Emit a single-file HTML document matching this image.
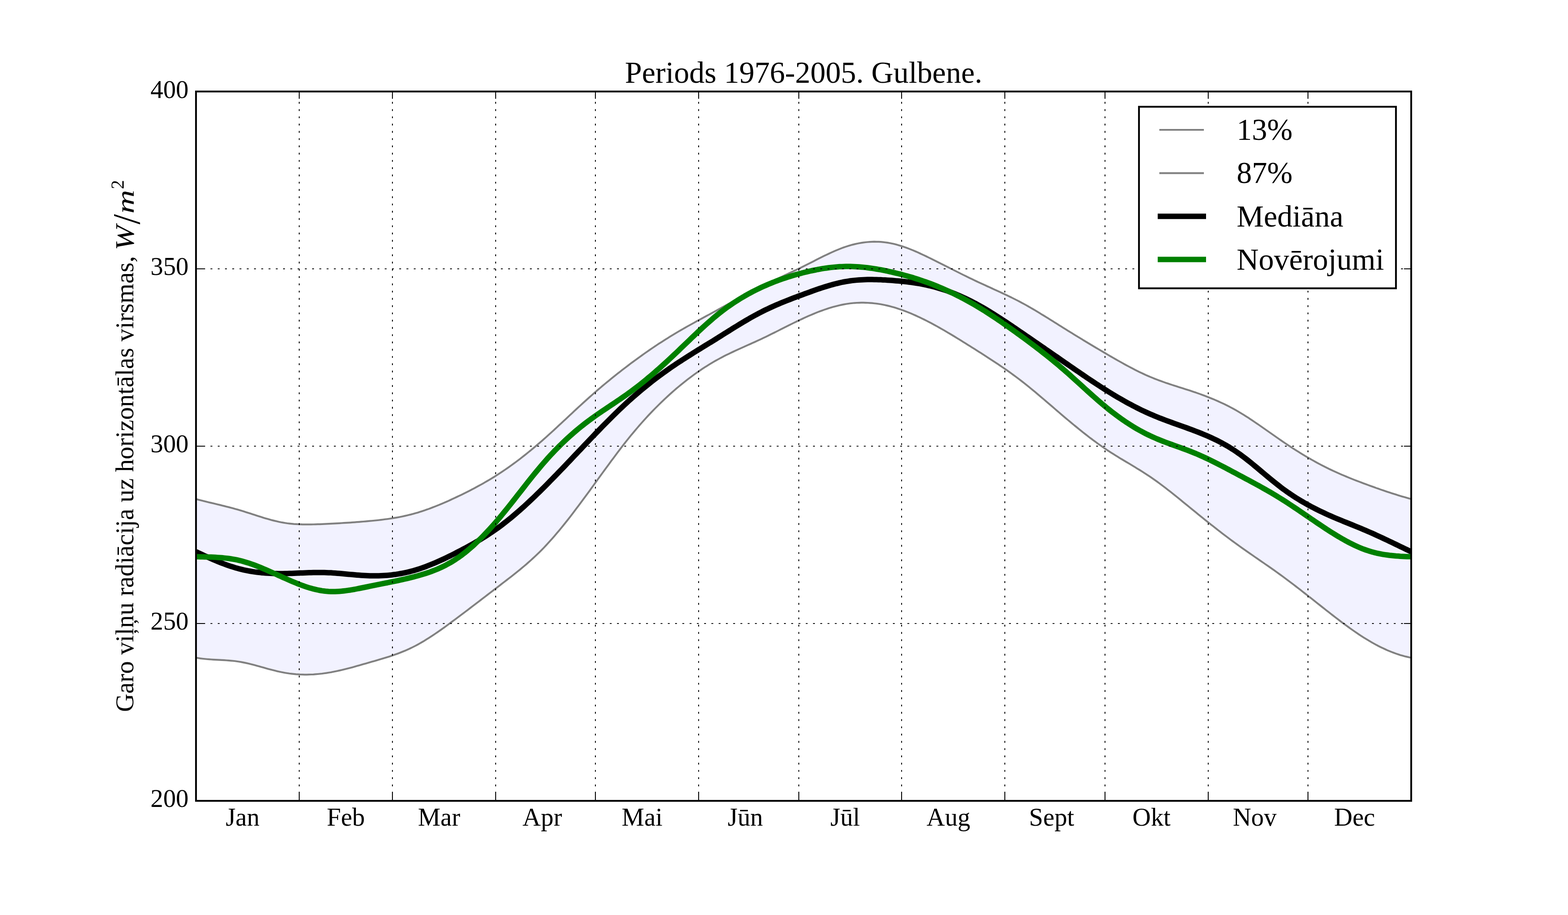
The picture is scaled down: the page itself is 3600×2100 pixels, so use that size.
<!DOCTYPE html>
<html lang="lv"><head><meta charset="utf-8"><title>Periods 1976-2005. Gulbene.</title>
<style>
html,body{margin:0;padding:0;background:#fff;}
body{width:3600px;height:2100px;overflow:hidden;}
svg{display:block;}
text{font-family:"Liberation Serif","DejaVu Serif",serif;fill:#000;}
.t14{font-size:58.33px;}
.t17{font-size:70px;}
.grid{stroke:#000;stroke-width:2.083;stroke-dasharray:4.167 12.5;fill:none;}
.tick{stroke:#000;stroke-width:2.083;fill:none;}
.it{font-family:"Liberation Serif","DejaVu Serif",serif;font-style:italic;}
</style></head><body>
<svg xmlns="http://www.w3.org/2000/svg" width="3600" height="2100" viewBox="0 0 3600 2100">
<rect x="0" y="0" width="3600" height="2100" fill="#fff"/>
<clipPath id="ax"><rect x="450.0" y="210.0" width="2790.0" height="1628.0"/></clipPath>
<g clip-path="url(#ax)">
<path d="M450.0 1145.3 L455.0 1146.7 L460.0 1148.0 L465.0 1149.2 L470.0 1150.5 L475.0 1151.7 L479.9 1152.9 L484.9 1154.1 L489.9 1155.3 L494.9 1156.5 L499.9 1157.7 L504.9 1158.9 L509.9 1160.2 L514.9 1161.4 L519.9 1162.7 L524.9 1163.9 L529.9 1165.2 L534.9 1166.6 L539.8 1167.9 L544.8 1169.3 L549.8 1170.8 L554.8 1172.3 L559.8 1173.8 L564.8 1175.4 L569.8 1177.0 L574.8 1178.6 L579.8 1180.2 L584.8 1181.8 L589.8 1183.4 L594.7 1185.0 L599.7 1186.6 L604.7 1188.2 L609.7 1189.7 L614.7 1191.1 L619.7 1192.5 L624.7 1193.9 L629.7 1195.1 L634.7 1196.3 L639.7 1197.5 L644.6 1198.5 L649.6 1199.4 L654.6 1200.2 L659.6 1201.0 L664.6 1201.6 L669.6 1202.1 L674.6 1202.6 L679.6 1202.9 L684.6 1203.2 L689.6 1203.4 L694.6 1203.6 L699.5 1203.7 L704.5 1203.7 L709.5 1203.7 L714.5 1203.7 L719.5 1203.5 L724.5 1203.4 L729.5 1203.2 L734.5 1203.1 L739.5 1202.8 L744.5 1202.6 L749.5 1202.4 L754.5 1202.1 L759.5 1201.9 L764.4 1201.6 L769.4 1201.4 L774.4 1201.1 L779.4 1200.8 L784.4 1200.5 L789.4 1200.2 L794.4 1199.9 L799.4 1199.6 L804.4 1199.3 L809.4 1198.9 L814.4 1198.6 L819.3 1198.2 L824.3 1197.8 L829.3 1197.4 L834.3 1197.0 L839.3 1196.6 L844.3 1196.1 L849.3 1195.7 L854.3 1195.2 L859.3 1194.7 L864.3 1194.2 L869.2 1193.7 L874.2 1193.1 L879.2 1192.5 L884.2 1191.8 L889.2 1191.2 L894.2 1190.5 L899.2 1189.7 L904.2 1188.9 L909.2 1188.1 L914.2 1187.2 L919.2 1186.2 L924.1 1185.2 L929.1 1184.1 L934.1 1183.0 L939.1 1181.8 L944.1 1180.6 L949.1 1179.2 L954.1 1177.8 L959.1 1176.4 L964.1 1174.8 L969.1 1173.2 L974.1 1171.6 L979.0 1169.8 L984.0 1168.1 L989.0 1166.2 L994.0 1164.3 L999.0 1162.4 L1004.0 1160.4 L1009.0 1158.3 L1014.0 1156.3 L1019.0 1154.1 L1024.0 1152.0 L1029.0 1149.8 L1034.0 1147.5 L1038.9 1145.2 L1043.9 1142.9 L1048.9 1140.5 L1053.9 1138.2 L1058.9 1135.8 L1063.9 1133.3 L1068.9 1130.9 L1073.9 1128.4 L1078.9 1125.8 L1083.9 1123.2 L1088.9 1120.6 L1093.8 1117.9 L1098.8 1115.2 L1103.8 1112.5 L1108.8 1109.7 L1113.8 1106.8 L1118.8 1103.9 L1123.8 1101.0 L1128.8 1097.9 L1133.8 1094.9 L1138.8 1091.7 L1143.8 1088.5 L1148.8 1085.3 L1153.7 1082.0 L1158.7 1078.6 L1163.7 1075.2 L1168.7 1071.7 L1173.7 1068.1 L1178.7 1064.5 L1183.7 1060.8 L1188.7 1057.1 L1193.7 1053.3 L1198.7 1049.4 L1203.7 1045.5 L1208.6 1041.6 L1213.6 1037.5 L1218.6 1033.5 L1223.6 1029.3 L1228.6 1025.2 L1233.6 1020.9 L1238.6 1016.6 L1243.6 1012.3 L1248.6 1007.9 L1253.6 1003.5 L1258.5 999.0 L1263.5 994.5 L1268.5 990.0 L1273.5 985.4 L1278.5 980.8 L1283.5 976.1 L1288.5 971.5 L1293.5 966.8 L1298.5 962.2 L1303.5 957.5 L1308.5 952.8 L1313.5 948.2 L1318.4 943.5 L1323.4 938.9 L1328.4 934.3 L1333.4 929.7 L1338.4 925.1 L1343.4 920.6 L1348.4 916.1 L1353.4 911.6 L1358.4 907.2 L1363.4 902.8 L1368.3 898.5 L1373.3 894.2 L1378.3 890.0 L1383.3 885.7 L1388.3 881.5 L1393.3 877.4 L1398.3 873.3 L1403.3 869.2 L1408.3 865.2 L1413.3 861.2 L1418.3 857.2 L1423.3 853.3 L1428.2 849.4 L1433.2 845.6 L1438.2 841.8 L1443.2 838.0 L1448.2 834.2 L1453.2 830.5 L1458.2 826.8 L1463.2 823.2 L1468.2 819.6 L1473.2 816.0 L1478.2 812.4 L1483.2 808.9 L1488.1 805.5 L1493.1 802.0 L1498.1 798.6 L1503.1 795.3 L1508.1 791.9 L1513.1 788.6 L1518.1 785.4 L1523.1 782.2 L1528.1 779.0 L1533.1 775.9 L1538.0 772.8 L1543.0 769.7 L1548.0 766.7 L1553.0 763.7 L1558.0 760.8 L1563.0 757.9 L1568.0 755.0 L1573.0 752.1 L1578.0 749.3 L1583.0 746.5 L1588.0 743.7 L1593.0 741.0 L1597.9 738.2 L1602.9 735.5 L1607.9 732.8 L1612.9 730.1 L1617.9 727.4 L1622.9 724.6 L1627.9 722.0 L1632.9 719.2 L1637.9 716.5 L1642.9 713.8 L1647.8 711.1 L1652.8 708.4 L1657.8 705.6 L1662.8 702.9 L1667.8 700.1 L1672.8 697.4 L1677.8 694.6 L1682.8 691.9 L1687.8 689.2 L1692.8 686.4 L1697.8 683.7 L1702.8 681.0 L1707.8 678.3 L1712.7 675.6 L1717.7 673.0 L1722.7 670.4 L1727.7 667.7 L1732.7 665.1 L1737.7 662.6 L1742.7 660.0 L1747.7 657.5 L1752.7 655.1 L1757.7 652.6 L1762.7 650.2 L1767.6 647.8 L1772.6 645.5 L1777.6 643.1 L1782.6 640.8 L1787.6 638.4 L1792.6 636.1 L1797.6 633.8 L1802.6 631.4 L1807.6 629.1 L1812.6 626.7 L1817.5 624.4 L1822.5 622.0 L1827.5 619.6 L1832.5 617.2 L1837.5 614.8 L1842.5 612.4 L1847.5 609.9 L1852.5 607.4 L1857.5 604.9 L1862.5 602.3 L1867.5 599.8 L1872.5 597.2 L1877.4 594.7 L1882.4 592.2 L1887.4 589.7 L1892.4 587.2 L1897.4 584.8 L1902.4 582.5 L1907.4 580.1 L1912.4 577.9 L1917.4 575.7 L1922.4 573.6 L1927.3 571.6 L1932.3 569.6 L1937.3 567.8 L1942.3 566.1 L1947.3 564.5 L1952.3 563.0 L1957.3 561.6 L1962.3 560.4 L1967.3 559.2 L1972.3 558.2 L1977.3 557.4 L1982.2 556.6 L1987.2 556.0 L1992.2 555.5 L1997.2 555.1 L2002.2 554.9 L2007.2 554.7 L2012.2 554.8 L2017.2 554.9 L2022.2 555.2 L2027.2 555.6 L2032.2 556.2 L2037.2 556.9 L2042.2 557.7 L2047.1 558.7 L2052.1 559.8 L2057.1 561.1 L2062.1 562.4 L2067.1 563.9 L2072.1 565.5 L2077.1 567.2 L2082.1 569.0 L2087.1 570.9 L2092.1 572.9 L2097.1 574.9 L2102.0 577.0 L2107.0 579.2 L2112.0 581.5 L2117.0 583.8 L2122.0 586.1 L2127.0 588.5 L2132.0 591.0 L2137.0 593.4 L2142.0 595.9 L2147.0 598.4 L2151.9 600.9 L2156.9 603.4 L2161.9 605.9 L2166.9 608.4 L2171.9 610.9 L2176.9 613.4 L2181.9 616.0 L2186.9 618.5 L2191.9 621.0 L2196.9 623.5 L2201.9 626.0 L2206.8 628.5 L2211.8 631.0 L2216.8 633.4 L2221.8 635.9 L2226.8 638.3 L2231.8 640.7 L2236.8 643.1 L2241.8 645.5 L2246.8 647.8 L2251.8 650.1 L2256.8 652.4 L2261.8 654.7 L2266.7 657.0 L2271.7 659.2 L2276.7 661.5 L2281.7 663.8 L2286.7 666.1 L2291.7 668.4 L2296.7 670.6 L2301.7 673.0 L2306.7 675.3 L2311.7 677.7 L2316.7 680.1 L2321.7 682.5 L2326.6 685.0 L2331.6 687.5 L2336.6 690.0 L2341.6 692.7 L2346.6 695.3 L2351.6 698.0 L2356.6 700.8 L2361.6 703.6 L2366.6 706.5 L2371.6 709.4 L2376.6 712.3 L2381.5 715.3 L2386.5 718.3 L2391.5 721.4 L2396.5 724.4 L2401.5 727.5 L2406.5 730.6 L2411.5 733.7 L2416.5 736.8 L2421.5 739.9 L2426.5 743.1 L2431.4 746.2 L2436.4 749.3 L2441.4 752.4 L2446.4 755.5 L2451.4 758.7 L2456.4 761.8 L2461.4 764.8 L2466.4 767.9 L2471.4 771.0 L2476.4 774.0 L2481.4 777.0 L2486.3 780.1 L2491.3 783.1 L2496.3 786.1 L2501.3 789.1 L2506.3 792.1 L2511.3 795.1 L2516.3 798.1 L2521.3 801.0 L2526.3 804.0 L2531.3 806.9 L2536.3 809.9 L2541.2 812.8 L2546.2 815.7 L2551.2 818.6 L2556.2 821.5 L2561.2 824.4 L2566.2 827.2 L2571.2 830.0 L2576.2 832.8 L2581.2 835.6 L2586.2 838.3 L2591.2 841.0 L2596.2 843.6 L2601.1 846.2 L2606.1 848.8 L2611.1 851.3 L2616.1 853.8 L2621.1 856.2 L2626.1 858.5 L2631.1 860.8 L2636.1 863.0 L2641.1 865.1 L2646.1 867.2 L2651.1 869.2 L2656.1 871.1 L2661.0 873.0 L2666.0 874.8 L2671.0 876.6 L2676.0 878.4 L2681.0 880.0 L2686.0 881.7 L2691.0 883.4 L2696.0 885.0 L2701.0 886.6 L2706.0 888.2 L2710.9 889.7 L2715.9 891.3 L2720.9 892.9 L2725.9 894.5 L2730.9 896.1 L2735.9 897.8 L2740.9 899.5 L2745.9 901.1 L2750.9 902.9 L2755.9 904.6 L2760.9 906.5 L2765.8 908.3 L2770.8 910.2 L2775.8 912.2 L2780.8 914.2 L2785.8 916.2 L2790.8 918.4 L2795.8 920.5 L2800.8 922.8 L2805.8 925.1 L2810.8 927.4 L2815.8 929.9 L2820.8 932.4 L2825.7 935.0 L2830.7 937.7 L2835.7 940.4 L2840.7 943.2 L2845.7 946.2 L2850.7 949.2 L2855.7 952.2 L2860.7 955.4 L2865.7 958.6 L2870.7 961.9 L2875.7 965.2 L2880.6 968.6 L2885.6 972.0 L2890.6 975.4 L2895.6 978.9 L2900.6 982.4 L2905.6 985.9 L2910.6 989.4 L2915.6 992.9 L2920.6 996.4 L2925.6 999.9 L2930.6 1003.4 L2935.6 1006.9 L2940.5 1010.3 L2945.5 1013.7 L2950.5 1017.1 L2955.5 1020.4 L2960.5 1023.7 L2965.5 1027.0 L2970.5 1030.2 L2975.5 1033.4 L2980.5 1036.5 L2985.5 1039.7 L2990.4 1042.7 L2995.4 1045.7 L3000.4 1048.7 L3005.4 1051.6 L3010.4 1054.5 L3015.4 1057.3 L3020.4 1060.1 L3025.4 1062.8 L3030.4 1065.5 L3035.4 1068.1 L3040.4 1070.6 L3045.3 1073.1 L3050.3 1075.6 L3055.3 1078.0 L3060.3 1080.3 L3065.3 1082.6 L3070.3 1084.9 L3075.3 1087.1 L3080.3 1089.3 L3085.3 1091.4 L3090.3 1093.5 L3095.3 1095.6 L3100.2 1097.6 L3105.2 1099.6 L3110.2 1101.6 L3115.2 1103.5 L3120.2 1105.4 L3125.2 1107.3 L3130.2 1109.2 L3135.2 1111.0 L3140.2 1112.9 L3145.2 1114.7 L3150.2 1116.5 L3155.2 1118.3 L3160.1 1120.1 L3165.1 1121.8 L3170.1 1123.6 L3175.1 1125.3 L3180.1 1127.0 L3185.1 1128.7 L3190.1 1130.3 L3195.1 1131.9 L3200.1 1133.5 L3205.1 1135.1 L3210.1 1136.7 L3215.0 1138.2 L3220.0 1139.7 L3225.0 1141.1 L3230.0 1142.6 L3235.0 1144.0 L3240.0 1145.3 L3240.0 1509.5 L3235.0 1508.5 L3230.0 1507.4 L3225.0 1506.2 L3220.0 1504.8 L3215.0 1503.4 L3210.1 1501.8 L3205.1 1500.1 L3200.1 1498.3 L3195.1 1496.4 L3190.1 1494.4 L3185.1 1492.3 L3180.1 1490.0 L3175.1 1487.7 L3170.1 1485.3 L3165.1 1482.8 L3160.1 1480.2 L3155.2 1477.5 L3150.2 1474.7 L3145.2 1471.8 L3140.2 1468.8 L3135.2 1465.8 L3130.2 1462.7 L3125.2 1459.5 L3120.2 1456.2 L3115.2 1452.8 L3110.2 1449.4 L3105.2 1445.9 L3100.2 1442.4 L3095.3 1438.8 L3090.3 1435.2 L3085.3 1431.5 L3080.3 1427.8 L3075.3 1424.0 L3070.3 1420.2 L3065.3 1416.4 L3060.3 1412.5 L3055.3 1408.6 L3050.3 1404.7 L3045.3 1400.8 L3040.4 1396.9 L3035.4 1393.0 L3030.4 1389.0 L3025.4 1385.1 L3020.4 1381.1 L3015.4 1377.2 L3010.4 1373.2 L3005.4 1369.3 L3000.4 1365.4 L2995.4 1361.5 L2990.4 1357.6 L2985.5 1353.7 L2980.5 1349.8 L2975.5 1346.0 L2970.5 1342.1 L2965.5 1338.3 L2960.5 1334.6 L2955.5 1330.8 L2950.5 1327.1 L2945.5 1323.4 L2940.5 1319.8 L2935.6 1316.2 L2930.6 1312.6 L2925.6 1309.0 L2920.6 1305.5 L2915.6 1302.0 L2910.6 1298.5 L2905.6 1295.1 L2900.6 1291.6 L2895.6 1288.2 L2890.6 1284.7 L2885.6 1281.3 L2880.6 1277.9 L2875.7 1274.4 L2870.7 1271.0 L2865.7 1267.5 L2860.7 1264.0 L2855.7 1260.5 L2850.7 1257.0 L2845.7 1253.4 L2840.7 1249.8 L2835.7 1246.2 L2830.7 1242.5 L2825.7 1238.8 L2820.8 1235.1 L2815.8 1231.4 L2810.8 1227.6 L2805.8 1223.8 L2800.8 1219.9 L2795.8 1216.1 L2790.8 1212.2 L2785.8 1208.2 L2780.8 1204.3 L2775.8 1200.4 L2770.8 1196.4 L2765.8 1192.4 L2760.9 1188.4 L2755.9 1184.4 L2750.9 1180.3 L2745.9 1176.2 L2740.9 1172.2 L2735.9 1168.1 L2730.9 1164.0 L2725.9 1159.9 L2720.9 1155.8 L2715.9 1151.8 L2710.9 1147.7 L2706.0 1143.6 L2701.0 1139.6 L2696.0 1135.6 L2691.0 1131.6 L2686.0 1127.7 L2681.0 1123.8 L2676.0 1119.9 L2671.0 1116.1 L2666.0 1112.4 L2661.0 1108.7 L2656.1 1105.0 L2651.1 1101.5 L2646.1 1098.0 L2641.1 1094.5 L2636.1 1091.2 L2631.1 1087.9 L2626.1 1084.7 L2621.1 1081.5 L2616.1 1078.4 L2611.1 1075.4 L2606.1 1072.3 L2601.1 1069.3 L2596.2 1066.3 L2591.2 1063.3 L2586.2 1060.4 L2581.2 1057.4 L2576.2 1054.4 L2571.2 1051.4 L2566.2 1048.3 L2561.2 1045.2 L2556.2 1042.1 L2551.2 1038.9 L2546.2 1035.7 L2541.2 1032.4 L2536.3 1029.0 L2531.3 1025.6 L2526.3 1022.1 L2521.3 1018.6 L2516.3 1014.9 L2511.3 1011.3 L2506.3 1007.5 L2501.3 1003.8 L2496.3 999.9 L2491.3 996.0 L2486.3 992.1 L2481.4 988.1 L2476.4 984.1 L2471.4 980.0 L2466.4 976.0 L2461.4 971.8 L2456.4 967.7 L2451.4 963.5 L2446.4 959.3 L2441.4 955.1 L2436.4 950.8 L2431.4 946.5 L2426.5 942.3 L2421.5 938.0 L2416.5 933.7 L2411.5 929.4 L2406.5 925.1 L2401.5 920.8 L2396.5 916.5 L2391.5 912.3 L2386.5 908.1 L2381.5 903.9 L2376.6 899.7 L2371.6 895.6 L2366.6 891.5 L2361.6 887.4 L2356.6 883.4 L2351.6 879.4 L2346.6 875.5 L2341.6 871.7 L2336.6 867.9 L2331.6 864.2 L2326.6 860.5 L2321.7 856.9 L2316.7 853.3 L2311.7 849.8 L2306.7 846.3 L2301.7 842.9 L2296.7 839.5 L2291.7 836.1 L2286.7 832.8 L2281.7 829.5 L2276.7 826.2 L2271.7 823.0 L2266.7 819.7 L2261.8 816.5 L2256.8 813.3 L2251.8 810.1 L2246.8 807.0 L2241.8 803.8 L2236.8 800.6 L2231.8 797.5 L2226.8 794.3 L2221.8 791.2 L2216.8 788.0 L2211.8 784.9 L2206.8 781.8 L2201.9 778.7 L2196.9 775.7 L2191.9 772.6 L2186.9 769.6 L2181.9 766.6 L2176.9 763.7 L2171.9 760.7 L2166.9 757.8 L2161.9 755.0 L2156.9 752.1 L2151.9 749.3 L2147.0 746.6 L2142.0 743.9 L2137.0 741.2 L2132.0 738.6 L2127.0 736.0 L2122.0 733.5 L2117.0 731.1 L2112.0 728.7 L2107.0 726.3 L2102.0 724.0 L2097.1 721.8 L2092.1 719.7 L2087.1 717.6 L2082.1 715.6 L2077.1 713.7 L2072.1 711.9 L2067.1 710.1 L2062.1 708.4 L2057.1 706.8 L2052.1 705.3 L2047.1 703.9 L2042.2 702.6 L2037.2 701.4 L2032.2 700.3 L2027.2 699.3 L2022.2 698.3 L2017.2 697.5 L2012.2 696.8 L2007.2 696.2 L2002.2 695.7 L1997.2 695.3 L1992.2 695.0 L1987.2 694.8 L1982.2 694.6 L1977.3 694.7 L1972.3 694.8 L1967.3 695.0 L1962.3 695.3 L1957.3 695.8 L1952.3 696.3 L1947.3 697.0 L1942.3 697.7 L1937.3 698.6 L1932.3 699.6 L1927.3 700.7 L1922.4 701.9 L1917.4 703.2 L1912.4 704.5 L1907.4 706.0 L1902.4 707.5 L1897.4 709.2 L1892.4 710.9 L1887.4 712.7 L1882.4 714.5 L1877.4 716.4 L1872.5 718.4 L1867.5 720.5 L1862.5 722.6 L1857.5 724.7 L1852.5 726.9 L1847.5 729.2 L1842.5 731.5 L1837.5 733.8 L1832.5 736.2 L1827.5 738.6 L1822.5 741.0 L1817.5 743.5 L1812.6 745.9 L1807.6 748.4 L1802.6 750.9 L1797.6 753.4 L1792.6 755.9 L1787.6 758.5 L1782.6 761.0 L1777.6 763.5 L1772.6 765.9 L1767.6 768.4 L1762.7 770.9 L1757.7 773.3 L1752.7 775.7 L1747.7 778.1 L1742.7 780.4 L1737.7 782.7 L1732.7 785.0 L1727.7 787.2 L1722.7 789.5 L1717.7 791.7 L1712.7 793.9 L1707.8 796.2 L1702.8 798.4 L1697.8 800.6 L1692.8 802.9 L1687.8 805.2 L1682.8 807.5 L1677.8 809.9 L1672.8 812.3 L1667.8 814.7 L1662.8 817.2 L1657.8 819.8 L1652.8 822.5 L1647.8 825.2 L1642.9 827.9 L1637.9 830.8 L1632.9 833.8 L1627.9 836.8 L1622.9 839.9 L1617.9 843.1 L1612.9 846.3 L1607.9 849.7 L1602.9 853.1 L1597.9 856.6 L1593.0 860.2 L1588.0 863.9 L1583.0 867.6 L1578.0 871.4 L1573.0 875.3 L1568.0 879.3 L1563.0 883.4 L1558.0 887.5 L1553.0 891.7 L1548.0 896.0 L1543.0 900.4 L1538.0 904.9 L1533.1 909.4 L1528.1 914.0 L1523.1 918.7 L1518.1 923.5 L1513.1 928.4 L1508.1 933.4 L1503.1 938.4 L1498.1 943.5 L1493.1 948.7 L1488.1 954.0 L1483.2 959.4 L1478.2 964.9 L1473.2 970.5 L1468.2 976.2 L1463.2 982.0 L1458.2 987.8 L1453.2 993.8 L1448.2 999.8 L1443.2 1006.0 L1438.2 1012.2 L1433.2 1018.6 L1428.2 1025.0 L1423.3 1031.5 L1418.3 1038.1 L1413.3 1044.7 L1408.3 1051.4 L1403.3 1058.1 L1398.3 1064.9 L1393.3 1071.7 L1388.3 1078.5 L1383.3 1085.4 L1378.3 1092.3 L1373.3 1099.1 L1368.3 1106.0 L1363.4 1112.9 L1358.4 1119.8 L1353.4 1126.7 L1348.4 1133.5 L1343.4 1140.3 L1338.4 1147.1 L1333.4 1153.8 L1328.4 1160.5 L1323.4 1167.1 L1318.4 1173.7 L1313.5 1180.2 L1308.5 1186.7 L1303.5 1193.1 L1298.5 1199.4 L1293.5 1205.6 L1288.5 1211.7 L1283.5 1217.8 L1278.5 1223.7 L1273.5 1229.6 L1268.5 1235.3 L1263.5 1240.9 L1258.5 1246.4 L1253.6 1251.8 L1248.6 1257.1 L1243.6 1262.2 L1238.6 1267.2 L1233.6 1272.0 L1228.6 1276.8 L1223.6 1281.4 L1218.6 1286.0 L1213.6 1290.4 L1208.6 1294.8 L1203.7 1299.0 L1198.7 1303.2 L1193.7 1307.3 L1188.7 1311.4 L1183.7 1315.4 L1178.7 1319.4 L1173.7 1323.3 L1168.7 1327.2 L1163.7 1331.0 L1158.7 1334.9 L1153.7 1338.7 L1148.8 1342.5 L1143.8 1346.3 L1138.8 1350.2 L1133.8 1354.0 L1128.8 1357.8 L1123.8 1361.7 L1118.8 1365.5 L1113.8 1369.3 L1108.8 1373.1 L1103.8 1377.0 L1098.8 1380.8 L1093.8 1384.6 L1088.9 1388.4 L1083.9 1392.2 L1078.9 1396.0 L1073.9 1399.8 L1068.9 1403.6 L1063.9 1407.3 L1058.9 1411.1 L1053.9 1414.8 L1048.9 1418.6 L1043.9 1422.3 L1038.9 1426.0 L1034.0 1429.7 L1029.0 1433.4 L1024.0 1437.1 L1019.0 1440.7 L1014.0 1444.2 L1009.0 1447.8 L1004.0 1451.2 L999.0 1454.6 L994.0 1458.0 L989.0 1461.3 L984.0 1464.5 L979.0 1467.6 L974.1 1470.7 L969.1 1473.6 L964.1 1476.5 L959.1 1479.3 L954.1 1482.0 L949.1 1484.5 L944.1 1487.0 L939.1 1489.3 L934.1 1491.6 L929.1 1493.8 L924.1 1495.8 L919.2 1497.8 L914.2 1499.7 L909.2 1501.5 L904.2 1503.3 L899.2 1505.0 L894.2 1506.7 L889.2 1508.2 L884.2 1509.8 L879.2 1511.3 L874.2 1512.8 L869.2 1514.3 L864.3 1515.7 L859.3 1517.2 L854.3 1518.6 L849.3 1520.0 L844.3 1521.5 L839.3 1522.9 L834.3 1524.3 L829.3 1525.8 L824.3 1527.2 L819.3 1528.6 L814.4 1530.0 L809.4 1531.4 L804.4 1532.7 L799.4 1534.0 L794.4 1535.3 L789.4 1536.5 L784.4 1537.7 L779.4 1538.9 L774.4 1540.0 L769.4 1541.0 L764.4 1542.0 L759.5 1543.0 L754.5 1543.8 L749.5 1544.6 L744.5 1545.3 L739.5 1546.0 L734.5 1546.5 L729.5 1547.0 L724.5 1547.4 L719.5 1547.8 L714.5 1548.0 L709.5 1548.2 L704.5 1548.3 L699.5 1548.3 L694.6 1548.2 L689.6 1548.0 L684.6 1547.7 L679.6 1547.4 L674.6 1546.9 L669.6 1546.4 L664.6 1545.8 L659.6 1545.0 L654.6 1544.2 L649.6 1543.3 L644.6 1542.3 L639.7 1541.2 L634.7 1540.1 L629.7 1538.8 L624.7 1537.5 L619.7 1536.2 L614.7 1534.9 L609.7 1533.5 L604.7 1532.1 L599.7 1530.7 L594.7 1529.3 L589.8 1527.9 L584.8 1526.5 L579.8 1525.2 L574.8 1524.0 L569.8 1522.8 L564.8 1521.6 L559.8 1520.6 L554.8 1519.6 L549.8 1518.7 L544.8 1518.0 L539.8 1517.3 L534.9 1516.8 L529.9 1516.3 L524.9 1515.9 L519.9 1515.5 L514.9 1515.2 L509.9 1514.9 L504.9 1514.7 L499.9 1514.4 L494.9 1514.1 L489.9 1513.8 L484.9 1513.5 L479.9 1513.2 L475.0 1512.8 L470.0 1512.3 L465.0 1511.7 L460.0 1511.1 L455.0 1510.3 L450.0 1509.5Z" fill="#f2f2ff" stroke="none"/>
<path d="M450.0 1145.3 L455.0 1146.7 L460.0 1148.0 L465.0 1149.2 L470.0 1150.5 L475.0 1151.7 L479.9 1152.9 L484.9 1154.1 L489.9 1155.3 L494.9 1156.5 L499.9 1157.7 L504.9 1158.9 L509.9 1160.2 L514.9 1161.4 L519.9 1162.7 L524.9 1163.9 L529.9 1165.2 L534.9 1166.6 L539.8 1167.9 L544.8 1169.3 L549.8 1170.8 L554.8 1172.3 L559.8 1173.8 L564.8 1175.4 L569.8 1177.0 L574.8 1178.6 L579.8 1180.2 L584.8 1181.8 L589.8 1183.4 L594.7 1185.0 L599.7 1186.6 L604.7 1188.2 L609.7 1189.7 L614.7 1191.1 L619.7 1192.5 L624.7 1193.9 L629.7 1195.1 L634.7 1196.3 L639.7 1197.5 L644.6 1198.5 L649.6 1199.4 L654.6 1200.2 L659.6 1201.0 L664.6 1201.6 L669.6 1202.1 L674.6 1202.6 L679.6 1202.9 L684.6 1203.2 L689.6 1203.4 L694.6 1203.6 L699.5 1203.7 L704.5 1203.7 L709.5 1203.7 L714.5 1203.7 L719.5 1203.5 L724.5 1203.4 L729.5 1203.2 L734.5 1203.1 L739.5 1202.8 L744.5 1202.6 L749.5 1202.4 L754.5 1202.1 L759.5 1201.9 L764.4 1201.6 L769.4 1201.4 L774.4 1201.1 L779.4 1200.8 L784.4 1200.5 L789.4 1200.2 L794.4 1199.9 L799.4 1199.6 L804.4 1199.3 L809.4 1198.9 L814.4 1198.6 L819.3 1198.2 L824.3 1197.8 L829.3 1197.4 L834.3 1197.0 L839.3 1196.6 L844.3 1196.1 L849.3 1195.7 L854.3 1195.2 L859.3 1194.7 L864.3 1194.2 L869.2 1193.7 L874.2 1193.1 L879.2 1192.5 L884.2 1191.8 L889.2 1191.2 L894.2 1190.5 L899.2 1189.7 L904.2 1188.9 L909.2 1188.1 L914.2 1187.2 L919.2 1186.2 L924.1 1185.2 L929.1 1184.1 L934.1 1183.0 L939.1 1181.8 L944.1 1180.6 L949.1 1179.2 L954.1 1177.8 L959.1 1176.4 L964.1 1174.8 L969.1 1173.2 L974.1 1171.6 L979.0 1169.8 L984.0 1168.1 L989.0 1166.2 L994.0 1164.3 L999.0 1162.4 L1004.0 1160.4 L1009.0 1158.3 L1014.0 1156.3 L1019.0 1154.1 L1024.0 1152.0 L1029.0 1149.8 L1034.0 1147.5 L1038.9 1145.2 L1043.9 1142.9 L1048.9 1140.5 L1053.9 1138.2 L1058.9 1135.8 L1063.9 1133.3 L1068.9 1130.9 L1073.9 1128.4 L1078.9 1125.8 L1083.9 1123.2 L1088.9 1120.6 L1093.8 1117.9 L1098.8 1115.2 L1103.8 1112.5 L1108.8 1109.7 L1113.8 1106.8 L1118.8 1103.9 L1123.8 1101.0 L1128.8 1097.9 L1133.8 1094.9 L1138.8 1091.7 L1143.8 1088.5 L1148.8 1085.3 L1153.7 1082.0 L1158.7 1078.6 L1163.7 1075.2 L1168.7 1071.7 L1173.7 1068.1 L1178.7 1064.5 L1183.7 1060.8 L1188.7 1057.1 L1193.7 1053.3 L1198.7 1049.4 L1203.7 1045.5 L1208.6 1041.6 L1213.6 1037.5 L1218.6 1033.5 L1223.6 1029.3 L1228.6 1025.2 L1233.6 1020.9 L1238.6 1016.6 L1243.6 1012.3 L1248.6 1007.9 L1253.6 1003.5 L1258.5 999.0 L1263.5 994.5 L1268.5 990.0 L1273.5 985.4 L1278.5 980.8 L1283.5 976.1 L1288.5 971.5 L1293.5 966.8 L1298.5 962.2 L1303.5 957.5 L1308.5 952.8 L1313.5 948.2 L1318.4 943.5 L1323.4 938.9 L1328.4 934.3 L1333.4 929.7 L1338.4 925.1 L1343.4 920.6 L1348.4 916.1 L1353.4 911.6 L1358.4 907.2 L1363.4 902.8 L1368.3 898.5 L1373.3 894.2 L1378.3 890.0 L1383.3 885.7 L1388.3 881.5 L1393.3 877.4 L1398.3 873.3 L1403.3 869.2 L1408.3 865.2 L1413.3 861.2 L1418.3 857.2 L1423.3 853.3 L1428.2 849.4 L1433.2 845.6 L1438.2 841.8 L1443.2 838.0 L1448.2 834.2 L1453.2 830.5 L1458.2 826.8 L1463.2 823.2 L1468.2 819.6 L1473.2 816.0 L1478.2 812.4 L1483.2 808.9 L1488.1 805.5 L1493.1 802.0 L1498.1 798.6 L1503.1 795.3 L1508.1 791.9 L1513.1 788.6 L1518.1 785.4 L1523.1 782.2 L1528.1 779.0 L1533.1 775.9 L1538.0 772.8 L1543.0 769.7 L1548.0 766.7 L1553.0 763.7 L1558.0 760.8 L1563.0 757.9 L1568.0 755.0 L1573.0 752.1 L1578.0 749.3 L1583.0 746.5 L1588.0 743.7 L1593.0 741.0 L1597.9 738.2 L1602.9 735.5 L1607.9 732.8 L1612.9 730.1 L1617.9 727.4 L1622.9 724.6 L1627.9 722.0 L1632.9 719.2 L1637.9 716.5 L1642.9 713.8 L1647.8 711.1 L1652.8 708.4 L1657.8 705.6 L1662.8 702.9 L1667.8 700.1 L1672.8 697.4 L1677.8 694.6 L1682.8 691.9 L1687.8 689.2 L1692.8 686.4 L1697.8 683.7 L1702.8 681.0 L1707.8 678.3 L1712.7 675.6 L1717.7 673.0 L1722.7 670.4 L1727.7 667.7 L1732.7 665.1 L1737.7 662.6 L1742.7 660.0 L1747.7 657.5 L1752.7 655.1 L1757.7 652.6 L1762.7 650.2 L1767.6 647.8 L1772.6 645.5 L1777.6 643.1 L1782.6 640.8 L1787.6 638.4 L1792.6 636.1 L1797.6 633.8 L1802.6 631.4 L1807.6 629.1 L1812.6 626.7 L1817.5 624.4 L1822.5 622.0 L1827.5 619.6 L1832.5 617.2 L1837.5 614.8 L1842.5 612.4 L1847.5 609.9 L1852.5 607.4 L1857.5 604.9 L1862.5 602.3 L1867.5 599.8 L1872.5 597.2 L1877.4 594.7 L1882.4 592.2 L1887.4 589.7 L1892.4 587.2 L1897.4 584.8 L1902.4 582.5 L1907.4 580.1 L1912.4 577.9 L1917.4 575.7 L1922.4 573.6 L1927.3 571.6 L1932.3 569.6 L1937.3 567.8 L1942.3 566.1 L1947.3 564.5 L1952.3 563.0 L1957.3 561.6 L1962.3 560.4 L1967.3 559.2 L1972.3 558.2 L1977.3 557.4 L1982.2 556.6 L1987.2 556.0 L1992.2 555.5 L1997.2 555.1 L2002.2 554.9 L2007.2 554.7 L2012.2 554.8 L2017.2 554.9 L2022.2 555.2 L2027.2 555.6 L2032.2 556.2 L2037.2 556.9 L2042.2 557.7 L2047.1 558.7 L2052.1 559.8 L2057.1 561.1 L2062.1 562.4 L2067.1 563.9 L2072.1 565.5 L2077.1 567.2 L2082.1 569.0 L2087.1 570.9 L2092.1 572.9 L2097.1 574.9 L2102.0 577.0 L2107.0 579.2 L2112.0 581.5 L2117.0 583.8 L2122.0 586.1 L2127.0 588.5 L2132.0 591.0 L2137.0 593.4 L2142.0 595.9 L2147.0 598.4 L2151.9 600.9 L2156.9 603.4 L2161.9 605.9 L2166.9 608.4 L2171.9 610.9 L2176.9 613.4 L2181.9 616.0 L2186.9 618.5 L2191.9 621.0 L2196.9 623.5 L2201.9 626.0 L2206.8 628.5 L2211.8 631.0 L2216.8 633.4 L2221.8 635.9 L2226.8 638.3 L2231.8 640.7 L2236.8 643.1 L2241.8 645.5 L2246.8 647.8 L2251.8 650.1 L2256.8 652.4 L2261.8 654.7 L2266.7 657.0 L2271.7 659.2 L2276.7 661.5 L2281.7 663.8 L2286.7 666.1 L2291.7 668.4 L2296.7 670.6 L2301.7 673.0 L2306.7 675.3 L2311.7 677.7 L2316.7 680.1 L2321.7 682.5 L2326.6 685.0 L2331.6 687.5 L2336.6 690.0 L2341.6 692.7 L2346.6 695.3 L2351.6 698.0 L2356.6 700.8 L2361.6 703.6 L2366.6 706.5 L2371.6 709.4 L2376.6 712.3 L2381.5 715.3 L2386.5 718.3 L2391.5 721.4 L2396.5 724.4 L2401.5 727.5 L2406.5 730.6 L2411.5 733.7 L2416.5 736.8 L2421.5 739.9 L2426.5 743.1 L2431.4 746.2 L2436.4 749.3 L2441.4 752.4 L2446.4 755.5 L2451.4 758.7 L2456.4 761.8 L2461.4 764.8 L2466.4 767.9 L2471.4 771.0 L2476.4 774.0 L2481.4 777.0 L2486.3 780.1 L2491.3 783.1 L2496.3 786.1 L2501.3 789.1 L2506.3 792.1 L2511.3 795.1 L2516.3 798.1 L2521.3 801.0 L2526.3 804.0 L2531.3 806.9 L2536.3 809.9 L2541.2 812.8 L2546.2 815.7 L2551.2 818.6 L2556.2 821.5 L2561.2 824.4 L2566.2 827.2 L2571.2 830.0 L2576.2 832.8 L2581.2 835.6 L2586.2 838.3 L2591.2 841.0 L2596.2 843.6 L2601.1 846.2 L2606.1 848.8 L2611.1 851.3 L2616.1 853.8 L2621.1 856.2 L2626.1 858.5 L2631.1 860.8 L2636.1 863.0 L2641.1 865.1 L2646.1 867.2 L2651.1 869.2 L2656.1 871.1 L2661.0 873.0 L2666.0 874.8 L2671.0 876.6 L2676.0 878.4 L2681.0 880.0 L2686.0 881.7 L2691.0 883.4 L2696.0 885.0 L2701.0 886.6 L2706.0 888.2 L2710.9 889.7 L2715.9 891.3 L2720.9 892.9 L2725.9 894.5 L2730.9 896.1 L2735.9 897.8 L2740.9 899.5 L2745.9 901.1 L2750.9 902.9 L2755.9 904.6 L2760.9 906.5 L2765.8 908.3 L2770.8 910.2 L2775.8 912.2 L2780.8 914.2 L2785.8 916.2 L2790.8 918.4 L2795.8 920.5 L2800.8 922.8 L2805.8 925.1 L2810.8 927.4 L2815.8 929.9 L2820.8 932.4 L2825.7 935.0 L2830.7 937.7 L2835.7 940.4 L2840.7 943.2 L2845.7 946.2 L2850.7 949.2 L2855.7 952.2 L2860.7 955.4 L2865.7 958.6 L2870.7 961.9 L2875.7 965.2 L2880.6 968.6 L2885.6 972.0 L2890.6 975.4 L2895.6 978.9 L2900.6 982.4 L2905.6 985.9 L2910.6 989.4 L2915.6 992.9 L2920.6 996.4 L2925.6 999.9 L2930.6 1003.4 L2935.6 1006.9 L2940.5 1010.3 L2945.5 1013.7 L2950.5 1017.1 L2955.5 1020.4 L2960.5 1023.7 L2965.5 1027.0 L2970.5 1030.2 L2975.5 1033.4 L2980.5 1036.5 L2985.5 1039.7 L2990.4 1042.7 L2995.4 1045.7 L3000.4 1048.7 L3005.4 1051.6 L3010.4 1054.5 L3015.4 1057.3 L3020.4 1060.1 L3025.4 1062.8 L3030.4 1065.5 L3035.4 1068.1 L3040.4 1070.6 L3045.3 1073.1 L3050.3 1075.6 L3055.3 1078.0 L3060.3 1080.3 L3065.3 1082.6 L3070.3 1084.9 L3075.3 1087.1 L3080.3 1089.3 L3085.3 1091.4 L3090.3 1093.5 L3095.3 1095.6 L3100.2 1097.6 L3105.2 1099.6 L3110.2 1101.6 L3115.2 1103.5 L3120.2 1105.4 L3125.2 1107.3 L3130.2 1109.2 L3135.2 1111.0 L3140.2 1112.9 L3145.2 1114.7 L3150.2 1116.5 L3155.2 1118.3 L3160.1 1120.1 L3165.1 1121.8 L3170.1 1123.6 L3175.1 1125.3 L3180.1 1127.0 L3185.1 1128.7 L3190.1 1130.3 L3195.1 1131.9 L3200.1 1133.5 L3205.1 1135.1 L3210.1 1136.7 L3215.0 1138.2 L3220.0 1139.7 L3225.0 1141.1 L3230.0 1142.6 L3235.0 1144.0 L3240.0 1145.3" fill="none" stroke="#808080" stroke-width="4.167" stroke-linejoin="round"/>
<path d="M450.0 1509.5 L455.0 1510.3 L460.0 1511.1 L465.0 1511.7 L470.0 1512.3 L475.0 1512.8 L479.9 1513.2 L484.9 1513.5 L489.9 1513.8 L494.9 1514.1 L499.9 1514.4 L504.9 1514.7 L509.9 1514.9 L514.9 1515.2 L519.9 1515.5 L524.9 1515.9 L529.9 1516.3 L534.9 1516.8 L539.8 1517.3 L544.8 1518.0 L549.8 1518.7 L554.8 1519.6 L559.8 1520.6 L564.8 1521.6 L569.8 1522.8 L574.8 1524.0 L579.8 1525.2 L584.8 1526.5 L589.8 1527.9 L594.7 1529.3 L599.7 1530.7 L604.7 1532.1 L609.7 1533.5 L614.7 1534.9 L619.7 1536.2 L624.7 1537.5 L629.7 1538.8 L634.7 1540.1 L639.7 1541.2 L644.6 1542.3 L649.6 1543.3 L654.6 1544.2 L659.6 1545.0 L664.6 1545.8 L669.6 1546.4 L674.6 1546.9 L679.6 1547.4 L684.6 1547.7 L689.6 1548.0 L694.6 1548.2 L699.5 1548.3 L704.5 1548.3 L709.5 1548.2 L714.5 1548.0 L719.5 1547.8 L724.5 1547.4 L729.5 1547.0 L734.5 1546.5 L739.5 1546.0 L744.5 1545.3 L749.5 1544.6 L754.5 1543.8 L759.5 1543.0 L764.4 1542.0 L769.4 1541.0 L774.4 1540.0 L779.4 1538.9 L784.4 1537.7 L789.4 1536.5 L794.4 1535.3 L799.4 1534.0 L804.4 1532.7 L809.4 1531.4 L814.4 1530.0 L819.3 1528.6 L824.3 1527.2 L829.3 1525.8 L834.3 1524.3 L839.3 1522.9 L844.3 1521.5 L849.3 1520.0 L854.3 1518.6 L859.3 1517.2 L864.3 1515.7 L869.2 1514.3 L874.2 1512.8 L879.2 1511.3 L884.2 1509.8 L889.2 1508.2 L894.2 1506.7 L899.2 1505.0 L904.2 1503.3 L909.2 1501.5 L914.2 1499.7 L919.2 1497.8 L924.1 1495.8 L929.1 1493.8 L934.1 1491.6 L939.1 1489.3 L944.1 1487.0 L949.1 1484.5 L954.1 1482.0 L959.1 1479.3 L964.1 1476.5 L969.1 1473.6 L974.1 1470.7 L979.0 1467.6 L984.0 1464.5 L989.0 1461.3 L994.0 1458.0 L999.0 1454.6 L1004.0 1451.2 L1009.0 1447.8 L1014.0 1444.2 L1019.0 1440.7 L1024.0 1437.1 L1029.0 1433.4 L1034.0 1429.7 L1038.9 1426.0 L1043.9 1422.3 L1048.9 1418.6 L1053.9 1414.8 L1058.9 1411.1 L1063.9 1407.3 L1068.9 1403.6 L1073.9 1399.8 L1078.9 1396.0 L1083.9 1392.2 L1088.9 1388.4 L1093.8 1384.6 L1098.8 1380.8 L1103.8 1377.0 L1108.8 1373.1 L1113.8 1369.3 L1118.8 1365.5 L1123.8 1361.7 L1128.8 1357.8 L1133.8 1354.0 L1138.8 1350.2 L1143.8 1346.3 L1148.8 1342.5 L1153.7 1338.7 L1158.7 1334.9 L1163.7 1331.0 L1168.7 1327.2 L1173.7 1323.3 L1178.7 1319.4 L1183.7 1315.4 L1188.7 1311.4 L1193.7 1307.3 L1198.7 1303.2 L1203.7 1299.0 L1208.6 1294.8 L1213.6 1290.4 L1218.6 1286.0 L1223.6 1281.4 L1228.6 1276.8 L1233.6 1272.0 L1238.6 1267.2 L1243.6 1262.2 L1248.6 1257.1 L1253.6 1251.8 L1258.5 1246.4 L1263.5 1240.9 L1268.5 1235.3 L1273.5 1229.6 L1278.5 1223.7 L1283.5 1217.8 L1288.5 1211.7 L1293.5 1205.6 L1298.5 1199.4 L1303.5 1193.1 L1308.5 1186.7 L1313.5 1180.2 L1318.4 1173.7 L1323.4 1167.1 L1328.4 1160.5 L1333.4 1153.8 L1338.4 1147.1 L1343.4 1140.3 L1348.4 1133.5 L1353.4 1126.7 L1358.4 1119.8 L1363.4 1112.9 L1368.3 1106.0 L1373.3 1099.1 L1378.3 1092.3 L1383.3 1085.4 L1388.3 1078.5 L1393.3 1071.7 L1398.3 1064.9 L1403.3 1058.1 L1408.3 1051.4 L1413.3 1044.7 L1418.3 1038.1 L1423.3 1031.5 L1428.2 1025.0 L1433.2 1018.6 L1438.2 1012.2 L1443.2 1006.0 L1448.2 999.8 L1453.2 993.8 L1458.2 987.8 L1463.2 982.0 L1468.2 976.2 L1473.2 970.5 L1478.2 964.9 L1483.2 959.4 L1488.1 954.0 L1493.1 948.7 L1498.1 943.5 L1503.1 938.4 L1508.1 933.4 L1513.1 928.4 L1518.1 923.5 L1523.1 918.7 L1528.1 914.0 L1533.1 909.4 L1538.0 904.9 L1543.0 900.4 L1548.0 896.0 L1553.0 891.7 L1558.0 887.5 L1563.0 883.4 L1568.0 879.3 L1573.0 875.3 L1578.0 871.4 L1583.0 867.6 L1588.0 863.9 L1593.0 860.2 L1597.9 856.6 L1602.9 853.1 L1607.9 849.7 L1612.9 846.3 L1617.9 843.1 L1622.9 839.9 L1627.9 836.8 L1632.9 833.8 L1637.9 830.8 L1642.9 827.9 L1647.8 825.2 L1652.8 822.5 L1657.8 819.8 L1662.8 817.2 L1667.8 814.7 L1672.8 812.3 L1677.8 809.9 L1682.8 807.5 L1687.8 805.2 L1692.8 802.9 L1697.8 800.6 L1702.8 798.4 L1707.8 796.2 L1712.7 793.9 L1717.7 791.7 L1722.7 789.5 L1727.7 787.2 L1732.7 785.0 L1737.7 782.7 L1742.7 780.4 L1747.7 778.1 L1752.7 775.7 L1757.7 773.3 L1762.7 770.9 L1767.6 768.4 L1772.6 765.9 L1777.6 763.5 L1782.6 761.0 L1787.6 758.5 L1792.6 755.9 L1797.6 753.4 L1802.6 750.9 L1807.6 748.4 L1812.6 745.9 L1817.5 743.5 L1822.5 741.0 L1827.5 738.6 L1832.5 736.2 L1837.5 733.8 L1842.5 731.5 L1847.5 729.2 L1852.5 726.9 L1857.5 724.7 L1862.5 722.6 L1867.5 720.5 L1872.5 718.4 L1877.4 716.4 L1882.4 714.5 L1887.4 712.7 L1892.4 710.9 L1897.4 709.2 L1902.4 707.5 L1907.4 706.0 L1912.4 704.5 L1917.4 703.2 L1922.4 701.9 L1927.3 700.7 L1932.3 699.6 L1937.3 698.6 L1942.3 697.7 L1947.3 697.0 L1952.3 696.3 L1957.3 695.8 L1962.3 695.3 L1967.3 695.0 L1972.3 694.8 L1977.3 694.7 L1982.2 694.6 L1987.2 694.8 L1992.2 695.0 L1997.2 695.3 L2002.2 695.7 L2007.2 696.2 L2012.2 696.8 L2017.2 697.5 L2022.2 698.3 L2027.2 699.3 L2032.2 700.3 L2037.2 701.4 L2042.2 702.6 L2047.1 703.9 L2052.1 705.3 L2057.1 706.8 L2062.1 708.4 L2067.1 710.1 L2072.1 711.9 L2077.1 713.7 L2082.1 715.6 L2087.1 717.6 L2092.1 719.7 L2097.1 721.8 L2102.0 724.0 L2107.0 726.3 L2112.0 728.7 L2117.0 731.1 L2122.0 733.5 L2127.0 736.0 L2132.0 738.6 L2137.0 741.2 L2142.0 743.9 L2147.0 746.6 L2151.9 749.3 L2156.9 752.1 L2161.9 755.0 L2166.9 757.8 L2171.9 760.7 L2176.9 763.7 L2181.9 766.6 L2186.9 769.6 L2191.9 772.6 L2196.9 775.7 L2201.9 778.7 L2206.8 781.8 L2211.8 784.9 L2216.8 788.0 L2221.8 791.2 L2226.8 794.3 L2231.8 797.5 L2236.8 800.6 L2241.8 803.8 L2246.8 807.0 L2251.8 810.1 L2256.8 813.3 L2261.8 816.5 L2266.7 819.7 L2271.7 823.0 L2276.7 826.2 L2281.7 829.5 L2286.7 832.8 L2291.7 836.1 L2296.7 839.5 L2301.7 842.9 L2306.7 846.3 L2311.7 849.8 L2316.7 853.3 L2321.7 856.9 L2326.6 860.5 L2331.6 864.2 L2336.6 867.9 L2341.6 871.7 L2346.6 875.5 L2351.6 879.4 L2356.6 883.4 L2361.6 887.4 L2366.6 891.5 L2371.6 895.6 L2376.6 899.7 L2381.5 903.9 L2386.5 908.1 L2391.5 912.3 L2396.5 916.5 L2401.5 920.8 L2406.5 925.1 L2411.5 929.4 L2416.5 933.7 L2421.5 938.0 L2426.5 942.3 L2431.4 946.5 L2436.4 950.8 L2441.4 955.1 L2446.4 959.3 L2451.4 963.5 L2456.4 967.7 L2461.4 971.8 L2466.4 976.0 L2471.4 980.0 L2476.4 984.1 L2481.4 988.1 L2486.3 992.1 L2491.3 996.0 L2496.3 999.9 L2501.3 1003.8 L2506.3 1007.5 L2511.3 1011.3 L2516.3 1014.9 L2521.3 1018.6 L2526.3 1022.1 L2531.3 1025.6 L2536.3 1029.0 L2541.2 1032.4 L2546.2 1035.7 L2551.2 1038.9 L2556.2 1042.1 L2561.2 1045.2 L2566.2 1048.3 L2571.2 1051.4 L2576.2 1054.4 L2581.2 1057.4 L2586.2 1060.4 L2591.2 1063.3 L2596.2 1066.3 L2601.1 1069.3 L2606.1 1072.3 L2611.1 1075.4 L2616.1 1078.4 L2621.1 1081.5 L2626.1 1084.7 L2631.1 1087.9 L2636.1 1091.2 L2641.1 1094.5 L2646.1 1098.0 L2651.1 1101.5 L2656.1 1105.0 L2661.0 1108.7 L2666.0 1112.4 L2671.0 1116.1 L2676.0 1119.9 L2681.0 1123.8 L2686.0 1127.7 L2691.0 1131.6 L2696.0 1135.6 L2701.0 1139.6 L2706.0 1143.6 L2710.9 1147.7 L2715.9 1151.8 L2720.9 1155.8 L2725.9 1159.9 L2730.9 1164.0 L2735.9 1168.1 L2740.9 1172.2 L2745.9 1176.2 L2750.9 1180.3 L2755.9 1184.4 L2760.9 1188.4 L2765.8 1192.4 L2770.8 1196.4 L2775.8 1200.4 L2780.8 1204.3 L2785.8 1208.2 L2790.8 1212.2 L2795.8 1216.1 L2800.8 1219.9 L2805.8 1223.8 L2810.8 1227.6 L2815.8 1231.4 L2820.8 1235.1 L2825.7 1238.8 L2830.7 1242.5 L2835.7 1246.2 L2840.7 1249.8 L2845.7 1253.4 L2850.7 1257.0 L2855.7 1260.5 L2860.7 1264.0 L2865.7 1267.5 L2870.7 1271.0 L2875.7 1274.4 L2880.6 1277.9 L2885.6 1281.3 L2890.6 1284.7 L2895.6 1288.2 L2900.6 1291.6 L2905.6 1295.1 L2910.6 1298.5 L2915.6 1302.0 L2920.6 1305.5 L2925.6 1309.0 L2930.6 1312.6 L2935.6 1316.2 L2940.5 1319.8 L2945.5 1323.4 L2950.5 1327.1 L2955.5 1330.8 L2960.5 1334.6 L2965.5 1338.3 L2970.5 1342.1 L2975.5 1346.0 L2980.5 1349.8 L2985.5 1353.7 L2990.4 1357.6 L2995.4 1361.5 L3000.4 1365.4 L3005.4 1369.3 L3010.4 1373.2 L3015.4 1377.2 L3020.4 1381.1 L3025.4 1385.1 L3030.4 1389.0 L3035.4 1393.0 L3040.4 1396.9 L3045.3 1400.8 L3050.3 1404.7 L3055.3 1408.6 L3060.3 1412.5 L3065.3 1416.4 L3070.3 1420.2 L3075.3 1424.0 L3080.3 1427.8 L3085.3 1431.5 L3090.3 1435.2 L3095.3 1438.8 L3100.2 1442.4 L3105.2 1445.9 L3110.2 1449.4 L3115.2 1452.8 L3120.2 1456.2 L3125.2 1459.5 L3130.2 1462.7 L3135.2 1465.8 L3140.2 1468.8 L3145.2 1471.8 L3150.2 1474.7 L3155.2 1477.5 L3160.1 1480.2 L3165.1 1482.8 L3170.1 1485.3 L3175.1 1487.7 L3180.1 1490.0 L3185.1 1492.3 L3190.1 1494.4 L3195.1 1496.4 L3200.1 1498.3 L3205.1 1500.1 L3210.1 1501.8 L3215.0 1503.4 L3220.0 1504.8 L3225.0 1506.2 L3230.0 1507.4 L3235.0 1508.5 L3240.0 1509.5" fill="none" stroke="#808080" stroke-width="4.167" stroke-linejoin="round"/>
<path d="M450.0 1266.2 L455.0 1268.6 L460.0 1271.0 L465.0 1273.3 L470.0 1275.6 L475.0 1277.8 L479.9 1280.1 L484.9 1282.3 L489.9 1284.5 L494.9 1286.6 L499.9 1288.6 L504.9 1290.6 L509.9 1292.6 L514.9 1294.5 L519.9 1296.3 L524.9 1298.1 L529.9 1299.8 L534.9 1301.3 L539.8 1302.9 L544.8 1304.3 L549.8 1305.7 L554.8 1306.9 L559.8 1308.1 L564.8 1309.1 L569.8 1310.1 L574.8 1311.0 L579.8 1311.8 L584.8 1312.6 L589.8 1313.2 L594.7 1313.8 L599.7 1314.4 L604.7 1314.8 L609.7 1315.2 L614.7 1315.5 L619.7 1315.8 L624.7 1316.0 L629.7 1316.2 L634.7 1316.3 L639.7 1316.4 L644.6 1316.4 L649.6 1316.4 L654.6 1316.3 L659.6 1316.2 L664.6 1316.0 L669.6 1315.9 L674.6 1315.7 L679.6 1315.5 L684.6 1315.3 L689.6 1315.1 L694.6 1314.9 L699.5 1314.7 L704.5 1314.5 L709.5 1314.3 L714.5 1314.2 L719.5 1314.1 L724.5 1314.0 L729.5 1313.9 L734.5 1313.9 L739.5 1314.0 L744.5 1314.0 L749.5 1314.2 L754.5 1314.4 L759.5 1314.6 L764.4 1314.9 L769.4 1315.3 L774.4 1315.7 L779.4 1316.1 L784.4 1316.5 L789.4 1317.0 L794.4 1317.5 L799.4 1317.9 L804.4 1318.4 L809.4 1318.8 L814.4 1319.3 L819.3 1319.7 L824.3 1320.1 L829.3 1320.5 L834.3 1320.8 L839.3 1321.1 L844.3 1321.3 L849.3 1321.5 L854.3 1321.6 L859.3 1321.6 L864.3 1321.6 L869.2 1321.5 L874.2 1321.3 L879.2 1321.1 L884.2 1320.8 L889.2 1320.4 L894.2 1320.0 L899.2 1319.5 L904.2 1318.8 L909.2 1318.2 L914.2 1317.4 L919.2 1316.5 L924.1 1315.6 L929.1 1314.6 L934.1 1313.5 L939.1 1312.3 L944.1 1311.0 L949.1 1309.7 L954.1 1308.2 L959.1 1306.7 L964.1 1305.1 L969.1 1303.4 L974.1 1301.6 L979.0 1299.8 L984.0 1297.8 L989.0 1295.8 L994.0 1293.8 L999.0 1291.7 L1004.0 1289.5 L1009.0 1287.3 L1014.0 1285.0 L1019.0 1282.7 L1024.0 1280.3 L1029.0 1277.9 L1034.0 1275.5 L1038.9 1273.0 L1043.9 1270.5 L1048.9 1267.9 L1053.9 1265.3 L1058.9 1262.8 L1063.9 1260.1 L1068.9 1257.5 L1073.9 1254.8 L1078.9 1252.0 L1083.9 1249.2 L1088.9 1246.4 L1093.8 1243.5 L1098.8 1240.6 L1103.8 1237.6 L1108.8 1234.5 L1113.8 1231.4 L1118.8 1228.2 L1123.8 1224.9 L1128.8 1221.6 L1133.8 1218.2 L1138.8 1214.7 L1143.8 1211.1 L1148.8 1207.4 L1153.7 1203.7 L1158.7 1199.8 L1163.7 1195.9 L1168.7 1191.9 L1173.7 1187.8 L1178.7 1183.6 L1183.7 1179.4 L1188.7 1175.1 L1193.7 1170.7 L1198.7 1166.3 L1203.7 1161.8 L1208.6 1157.2 L1213.6 1152.6 L1218.6 1147.9 L1223.6 1143.2 L1228.6 1138.4 L1233.6 1133.6 L1238.6 1128.7 L1243.6 1123.8 L1248.6 1118.8 L1253.6 1113.8 L1258.5 1108.8 L1263.5 1103.7 L1268.5 1098.6 L1273.5 1093.5 L1278.5 1088.4 L1283.5 1083.2 L1288.5 1078.0 L1293.5 1072.8 L1298.5 1067.6 L1303.5 1062.3 L1308.5 1057.1 L1313.5 1051.8 L1318.4 1046.5 L1323.4 1041.3 L1328.4 1036.0 L1333.4 1030.8 L1338.4 1025.5 L1343.4 1020.2 L1348.4 1015.0 L1353.4 1009.7 L1358.4 1004.5 L1363.4 999.3 L1368.3 994.1 L1373.3 989.0 L1378.3 983.8 L1383.3 978.7 L1388.3 973.6 L1393.3 968.6 L1398.3 963.6 L1403.3 958.6 L1408.3 953.6 L1413.3 948.8 L1418.3 943.9 L1423.3 939.1 L1428.2 934.4 L1433.2 929.7 L1438.2 925.1 L1443.2 920.5 L1448.2 916.0 L1453.2 911.6 L1458.2 907.2 L1463.2 902.9 L1468.2 898.7 L1473.2 894.5 L1478.2 890.4 L1483.2 886.3 L1488.1 882.3 L1493.1 878.3 L1498.1 874.4 L1503.1 870.6 L1508.1 866.8 L1513.1 863.0 L1518.1 859.4 L1523.1 855.7 L1528.1 852.1 L1533.1 848.6 L1538.0 845.1 L1543.0 841.7 L1548.0 838.3 L1553.0 834.9 L1558.0 831.6 L1563.0 828.4 L1568.0 825.1 L1573.0 821.9 L1578.0 818.7 L1583.0 815.6 L1588.0 812.4 L1593.0 809.3 L1597.9 806.2 L1602.9 803.1 L1607.9 800.1 L1612.9 797.0 L1617.9 793.9 L1622.9 790.9 L1627.9 787.8 L1632.9 784.8 L1637.9 781.7 L1642.9 778.6 L1647.8 775.5 L1652.8 772.4 L1657.8 769.3 L1662.8 766.1 L1667.8 763.0 L1672.8 759.9 L1677.8 756.8 L1682.8 753.6 L1687.8 750.5 L1692.8 747.5 L1697.8 744.4 L1702.8 741.4 L1707.8 738.4 L1712.7 735.5 L1717.7 732.6 L1722.7 729.7 L1727.7 726.9 L1732.7 724.1 L1737.7 721.4 L1742.7 718.8 L1747.7 716.2 L1752.7 713.7 L1757.7 711.2 L1762.7 708.8 L1767.6 706.5 L1772.6 704.2 L1777.6 702.0 L1782.6 699.8 L1787.6 697.7 L1792.6 695.6 L1797.6 693.5 L1802.6 691.5 L1807.6 689.5 L1812.6 687.6 L1817.5 685.6 L1822.5 683.7 L1827.5 681.8 L1832.5 680.0 L1837.5 678.1 L1842.5 676.3 L1847.5 674.4 L1852.5 672.6 L1857.5 670.8 L1862.5 669.0 L1867.5 667.2 L1872.5 665.4 L1877.4 663.7 L1882.4 662.0 L1887.4 660.4 L1892.4 658.8 L1897.4 657.2 L1902.4 655.7 L1907.4 654.2 L1912.4 652.9 L1917.4 651.5 L1922.4 650.3 L1927.3 649.1 L1932.3 648.0 L1937.3 647.0 L1942.3 646.1 L1947.3 645.3 L1952.3 644.5 L1957.3 643.9 L1962.3 643.4 L1967.3 642.9 L1972.3 642.5 L1977.3 642.2 L1982.2 641.9 L1987.2 641.8 L1992.2 641.6 L1997.2 641.6 L2002.2 641.6 L2007.2 641.7 L2012.2 641.8 L2017.2 641.9 L2022.2 642.1 L2027.2 642.4 L2032.2 642.6 L2037.2 642.9 L2042.2 643.2 L2047.1 643.6 L2052.1 644.0 L2057.1 644.4 L2062.1 644.8 L2067.1 645.3 L2072.1 645.8 L2077.1 646.3 L2082.1 646.9 L2087.1 647.5 L2092.1 648.1 L2097.1 648.8 L2102.0 649.6 L2107.0 650.4 L2112.0 651.2 L2117.0 652.1 L2122.0 653.1 L2127.0 654.2 L2132.0 655.3 L2137.0 656.4 L2142.0 657.7 L2147.0 659.0 L2151.9 660.4 L2156.9 661.9 L2161.9 663.4 L2166.9 665.0 L2171.9 666.7 L2176.9 668.4 L2181.9 670.3 L2186.9 672.2 L2191.9 674.1 L2196.9 676.2 L2201.9 678.3 L2206.8 680.5 L2211.8 682.7 L2216.8 685.0 L2221.8 687.4 L2226.8 689.9 L2231.8 692.4 L2236.8 695.0 L2241.8 697.6 L2246.8 700.4 L2251.8 703.2 L2256.8 706.0 L2261.8 708.9 L2266.7 711.9 L2271.7 714.9 L2276.7 718.0 L2281.7 721.1 L2286.7 724.2 L2291.7 727.4 L2296.7 730.7 L2301.7 733.9 L2306.7 737.2 L2311.7 740.5 L2316.7 743.9 L2321.7 747.2 L2326.6 750.6 L2331.6 754.0 L2336.6 757.4 L2341.6 760.8 L2346.6 764.2 L2351.6 767.7 L2356.6 771.1 L2361.6 774.5 L2366.6 777.9 L2371.6 781.4 L2376.6 784.8 L2381.5 788.2 L2386.5 791.7 L2391.5 795.1 L2396.5 798.5 L2401.5 802.0 L2406.5 805.4 L2411.5 808.9 L2416.5 812.3 L2421.5 815.8 L2426.5 819.2 L2431.4 822.7 L2436.4 826.1 L2441.4 829.6 L2446.4 833.1 L2451.4 836.5 L2456.4 840.0 L2461.4 843.4 L2466.4 846.9 L2471.4 850.3 L2476.4 853.7 L2481.4 857.1 L2486.3 860.5 L2491.3 863.9 L2496.3 867.3 L2501.3 870.6 L2506.3 874.0 L2511.3 877.3 L2516.3 880.6 L2521.3 883.8 L2526.3 887.1 L2531.3 890.3 L2536.3 893.5 L2541.2 896.6 L2546.2 899.7 L2551.2 902.8 L2556.2 905.8 L2561.2 908.8 L2566.2 911.8 L2571.2 914.7 L2576.2 917.5 L2581.2 920.4 L2586.2 923.2 L2591.2 925.9 L2596.2 928.6 L2601.1 931.2 L2606.1 933.8 L2611.1 936.4 L2616.1 938.9 L2621.1 941.3 L2626.1 943.7 L2631.1 946.0 L2636.1 948.3 L2641.1 950.5 L2646.1 952.6 L2651.1 954.8 L2656.1 956.8 L2661.0 958.8 L2666.0 960.7 L2671.0 962.6 L2676.0 964.5 L2681.0 966.4 L2686.0 968.2 L2691.0 970.0 L2696.0 971.8 L2701.0 973.6 L2706.0 975.4 L2710.9 977.2 L2715.9 978.9 L2720.9 980.7 L2725.9 982.5 L2730.9 984.4 L2735.9 986.2 L2740.9 988.1 L2745.9 990.0 L2750.9 991.9 L2755.9 993.9 L2760.9 995.9 L2765.8 998.0 L2770.8 1000.1 L2775.8 1002.3 L2780.8 1004.5 L2785.8 1006.9 L2790.8 1009.2 L2795.8 1011.7 L2800.8 1014.3 L2805.8 1016.9 L2810.8 1019.7 L2815.8 1022.5 L2820.8 1025.4 L2825.7 1028.5 L2830.7 1031.6 L2835.7 1034.9 L2840.7 1038.3 L2845.7 1041.8 L2850.7 1045.5 L2855.7 1049.2 L2860.7 1053.0 L2865.7 1057.0 L2870.7 1060.9 L2875.7 1065.0 L2880.6 1069.1 L2885.6 1073.2 L2890.6 1077.4 L2895.6 1081.6 L2900.6 1085.8 L2905.6 1090.0 L2910.6 1094.1 L2915.6 1098.3 L2920.6 1102.4 L2925.6 1106.4 L2930.6 1110.4 L2935.6 1114.3 L2940.5 1118.2 L2945.5 1121.9 L2950.5 1125.5 L2955.5 1129.1 L2960.5 1132.5 L2965.5 1135.9 L2970.5 1139.2 L2975.5 1142.4 L2980.5 1145.5 L2985.5 1148.6 L2990.4 1151.5 L2995.4 1154.4 L3000.4 1157.2 L3005.4 1160.0 L3010.4 1162.7 L3015.4 1165.3 L3020.4 1167.9 L3025.4 1170.4 L3030.4 1172.8 L3035.4 1175.2 L3040.4 1177.5 L3045.3 1179.8 L3050.3 1182.1 L3055.3 1184.3 L3060.3 1186.4 L3065.3 1188.6 L3070.3 1190.7 L3075.3 1192.8 L3080.3 1194.8 L3085.3 1196.9 L3090.3 1198.9 L3095.3 1200.9 L3100.2 1202.9 L3105.2 1204.9 L3110.2 1207.0 L3115.2 1209.0 L3120.2 1211.0 L3125.2 1213.1 L3130.2 1215.2 L3135.2 1217.3 L3140.2 1219.4 L3145.2 1221.6 L3150.2 1223.8 L3155.2 1226.0 L3160.1 1228.3 L3165.1 1230.6 L3170.1 1232.9 L3175.1 1235.2 L3180.1 1237.6 L3185.1 1239.9 L3190.1 1242.3 L3195.1 1244.7 L3200.1 1247.1 L3205.1 1249.5 L3210.1 1251.9 L3215.0 1254.3 L3220.0 1256.7 L3225.0 1259.1 L3230.0 1261.5 L3235.0 1263.9 L3240.0 1266.2" fill="none" stroke="#000" stroke-width="12.5" stroke-linejoin="round"/>
<path d="M450.0 1277.7 L455.0 1277.8 L460.0 1277.9 L465.0 1278.1 L470.0 1278.2 L475.0 1278.3 L479.9 1278.5 L484.9 1278.6 L489.9 1278.8 L494.9 1279.1 L499.9 1279.4 L504.9 1279.7 L509.9 1280.1 L514.9 1280.6 L519.9 1281.1 L524.9 1281.8 L529.9 1282.5 L534.9 1283.3 L539.8 1284.2 L544.8 1285.2 L549.8 1286.3 L554.8 1287.5 L559.8 1288.9 L564.8 1290.4 L569.8 1291.9 L574.8 1293.6 L579.8 1295.3 L584.8 1297.2 L589.8 1299.1 L594.7 1301.0 L599.7 1303.1 L604.7 1305.2 L609.7 1307.3 L614.7 1309.5 L619.7 1311.7 L624.7 1313.9 L629.7 1316.1 L634.7 1318.4 L639.7 1320.7 L644.6 1322.9 L649.6 1325.2 L654.6 1327.4 L659.6 1329.6 L664.6 1331.8 L669.6 1333.9 L674.6 1336.0 L679.6 1338.1 L684.6 1340.1 L689.6 1342.0 L694.6 1343.8 L699.5 1345.6 L704.5 1347.3 L709.5 1348.9 L714.5 1350.3 L719.5 1351.7 L724.5 1352.9 L729.5 1354.0 L734.5 1355.0 L739.5 1355.9 L744.5 1356.5 L749.5 1357.1 L754.5 1357.5 L759.5 1357.7 L764.4 1357.7 L769.4 1357.7 L774.4 1357.5 L779.4 1357.2 L784.4 1356.8 L789.4 1356.2 L794.4 1355.6 L799.4 1354.9 L804.4 1354.2 L809.4 1353.3 L814.4 1352.5 L819.3 1351.5 L824.3 1350.5 L829.3 1349.5 L834.3 1348.5 L839.3 1347.5 L844.3 1346.5 L849.3 1345.4 L854.3 1344.4 L859.3 1343.4 L864.3 1342.4 L869.2 1341.4 L874.2 1340.4 L879.2 1339.4 L884.2 1338.4 L889.2 1337.5 L894.2 1336.4 L899.2 1335.4 L904.2 1334.4 L909.2 1333.4 L914.2 1332.3 L919.2 1331.2 L924.1 1330.1 L929.1 1329.0 L934.1 1327.8 L939.1 1326.6 L944.1 1325.4 L949.1 1324.2 L954.1 1322.8 L959.1 1321.5 L964.1 1320.1 L969.1 1318.6 L974.1 1317.1 L979.0 1315.5 L984.0 1313.8 L989.0 1312.1 L994.0 1310.2 L999.0 1308.2 L1004.0 1306.2 L1009.0 1304.0 L1014.0 1301.7 L1019.0 1299.3 L1024.0 1296.8 L1029.0 1294.1 L1034.0 1291.3 L1038.9 1288.3 L1043.9 1285.2 L1048.9 1281.9 L1053.9 1278.5 L1058.9 1274.9 L1063.9 1271.1 L1068.9 1267.2 L1073.9 1263.1 L1078.9 1258.8 L1083.9 1254.5 L1088.9 1250.0 L1093.8 1245.3 L1098.8 1240.5 L1103.8 1235.6 L1108.8 1230.6 L1113.8 1225.4 L1118.8 1220.1 L1123.8 1214.7 L1128.8 1209.2 L1133.8 1203.6 L1138.8 1197.9 L1143.8 1192.0 L1148.8 1186.1 L1153.7 1180.1 L1158.7 1174.0 L1163.7 1167.8 L1168.7 1161.6 L1173.7 1155.3 L1178.7 1149.0 L1183.7 1142.6 L1188.7 1136.2 L1193.7 1129.8 L1198.7 1123.5 L1203.7 1117.1 L1208.6 1110.7 L1213.6 1104.4 L1218.6 1098.1 L1223.6 1091.9 L1228.6 1085.8 L1233.6 1079.7 L1238.6 1073.7 L1243.6 1067.8 L1248.6 1062.0 L1253.6 1056.3 L1258.5 1050.7 L1263.5 1045.3 L1268.5 1039.9 L1273.5 1034.7 L1278.5 1029.6 L1283.5 1024.5 L1288.5 1019.6 L1293.5 1014.8 L1298.5 1010.0 L1303.5 1005.4 L1308.5 1000.9 L1313.5 996.5 L1318.4 992.1 L1323.4 987.9 L1328.4 983.7 L1333.4 979.6 L1338.4 975.7 L1343.4 971.8 L1348.4 968.0 L1353.4 964.2 L1358.4 960.6 L1363.4 957.0 L1368.3 953.5 L1373.3 950.0 L1378.3 946.6 L1383.3 943.2 L1388.3 939.8 L1393.3 936.5 L1398.3 933.1 L1403.3 929.8 L1408.3 926.5 L1413.3 923.1 L1418.3 919.7 L1423.3 916.4 L1428.2 912.9 L1433.2 909.5 L1438.2 906.0 L1443.2 902.4 L1448.2 898.8 L1453.2 895.1 L1458.2 891.3 L1463.2 887.5 L1468.2 883.6 L1473.2 879.6 L1478.2 875.6 L1483.2 871.5 L1488.1 867.4 L1493.1 863.2 L1498.1 859.0 L1503.1 854.7 L1508.1 850.3 L1513.1 846.0 L1518.1 841.5 L1523.1 837.0 L1528.1 832.5 L1533.1 827.9 L1538.0 823.3 L1543.0 818.6 L1548.0 813.9 L1553.0 809.2 L1558.0 804.4 L1563.0 799.6 L1568.0 794.8 L1573.0 790.0 L1578.0 785.2 L1583.0 780.4 L1588.0 775.6 L1593.0 770.9 L1597.9 766.1 L1602.9 761.4 L1607.9 756.8 L1612.9 752.1 L1617.9 747.6 L1622.9 743.1 L1627.9 738.7 L1632.9 734.4 L1637.9 730.1 L1642.9 725.9 L1647.8 721.9 L1652.8 717.9 L1657.8 714.0 L1662.8 710.3 L1667.8 706.6 L1672.8 703.0 L1677.8 699.6 L1682.8 696.2 L1687.8 692.9 L1692.8 689.7 L1697.8 686.5 L1702.8 683.5 L1707.8 680.6 L1712.7 677.7 L1717.7 674.9 L1722.7 672.2 L1727.7 669.5 L1732.7 667.0 L1737.7 664.5 L1742.7 662.1 L1747.7 659.7 L1752.7 657.4 L1757.7 655.2 L1762.7 653.0 L1767.6 651.0 L1772.6 648.9 L1777.6 647.0 L1782.6 645.0 L1787.6 643.2 L1792.6 641.4 L1797.6 639.7 L1802.6 638.0 L1807.6 636.3 L1812.6 634.8 L1817.5 633.2 L1822.5 631.8 L1827.5 630.3 L1832.5 628.9 L1837.5 627.6 L1842.5 626.3 L1847.5 625.0 L1852.5 623.8 L1857.5 622.7 L1862.5 621.5 L1867.5 620.5 L1872.5 619.5 L1877.4 618.5 L1882.4 617.6 L1887.4 616.7 L1892.4 615.9 L1897.4 615.2 L1902.4 614.5 L1907.4 613.9 L1912.4 613.4 L1917.4 612.9 L1922.4 612.5 L1927.3 612.1 L1932.3 611.9 L1937.3 611.7 L1942.3 611.6 L1947.3 611.5 L1952.3 611.6 L1957.3 611.7 L1962.3 611.9 L1967.3 612.2 L1972.3 612.5 L1977.3 612.9 L1982.2 613.4 L1987.2 613.9 L1992.2 614.5 L1997.2 615.2 L2002.2 615.9 L2007.2 616.6 L2012.2 617.5 L2017.2 618.3 L2022.2 619.2 L2027.2 620.2 L2032.2 621.2 L2037.2 622.2 L2042.2 623.3 L2047.1 624.4 L2052.1 625.6 L2057.1 626.8 L2062.1 628.0 L2067.1 629.2 L2072.1 630.5 L2077.1 631.9 L2082.1 633.2 L2087.1 634.7 L2092.1 636.1 L2097.1 637.6 L2102.0 639.2 L2107.0 640.8 L2112.0 642.4 L2117.0 644.1 L2122.0 645.8 L2127.0 647.5 L2132.0 649.4 L2137.0 651.2 L2142.0 653.1 L2147.0 655.1 L2151.9 657.1 L2156.9 659.2 L2161.9 661.3 L2166.9 663.5 L2171.9 665.7 L2176.9 668.0 L2181.9 670.3 L2186.9 672.7 L2191.9 675.1 L2196.9 677.6 L2201.9 680.1 L2206.8 682.7 L2211.8 685.3 L2216.8 688.0 L2221.8 690.7 L2226.8 693.5 L2231.8 696.3 L2236.8 699.2 L2241.8 702.1 L2246.8 705.1 L2251.8 708.1 L2256.8 711.2 L2261.8 714.3 L2266.7 717.5 L2271.7 720.7 L2276.7 724.0 L2281.7 727.3 L2286.7 730.6 L2291.7 734.0 L2296.7 737.4 L2301.7 740.8 L2306.7 744.3 L2311.7 747.8 L2316.7 751.3 L2321.7 754.9 L2326.6 758.4 L2331.6 762.0 L2336.6 765.6 L2341.6 769.3 L2346.6 772.9 L2351.6 776.6 L2356.6 780.3 L2361.6 784.0 L2366.6 787.7 L2371.6 791.5 L2376.6 795.2 L2381.5 799.0 L2386.5 802.9 L2391.5 806.8 L2396.5 810.7 L2401.5 814.6 L2406.5 818.6 L2411.5 822.6 L2416.5 826.7 L2421.5 830.8 L2426.5 834.9 L2431.4 839.1 L2436.4 843.4 L2441.4 847.6 L2446.4 852.0 L2451.4 856.4 L2456.4 860.8 L2461.4 865.3 L2466.4 869.8 L2471.4 874.3 L2476.4 878.8 L2481.4 883.4 L2486.3 887.9 L2491.3 892.5 L2496.3 897.0 L2501.3 901.5 L2506.3 906.0 L2511.3 910.4 L2516.3 914.8 L2521.3 919.2 L2526.3 923.5 L2531.3 927.7 L2536.3 931.9 L2541.2 936.0 L2546.2 940.0 L2551.2 944.0 L2556.2 947.8 L2561.2 951.6 L2566.2 955.3 L2571.2 958.9 L2576.2 962.5 L2581.2 965.9 L2586.2 969.3 L2591.2 972.5 L2596.2 975.7 L2601.1 978.8 L2606.1 981.8 L2611.1 984.8 L2616.1 987.6 L2621.1 990.3 L2626.1 993.0 L2631.1 995.6 L2636.1 998.0 L2641.1 1000.4 L2646.1 1002.7 L2651.1 1004.9 L2656.1 1007.1 L2661.0 1009.1 L2666.0 1011.1 L2671.0 1013.1 L2676.0 1015.0 L2681.0 1016.9 L2686.0 1018.7 L2691.0 1020.5 L2696.0 1022.3 L2701.0 1024.1 L2706.0 1025.9 L2710.9 1027.7 L2715.9 1029.5 L2720.9 1031.3 L2725.9 1033.2 L2730.9 1035.1 L2735.9 1037.1 L2740.9 1039.1 L2745.9 1041.1 L2750.9 1043.3 L2755.9 1045.5 L2760.9 1047.7 L2765.8 1050.0 L2770.8 1052.3 L2775.8 1054.7 L2780.8 1057.1 L2785.8 1059.6 L2790.8 1062.1 L2795.8 1064.6 L2800.8 1067.2 L2805.8 1069.8 L2810.8 1072.3 L2815.8 1075.0 L2820.8 1077.6 L2825.7 1080.2 L2830.7 1082.9 L2835.7 1085.6 L2840.7 1088.2 L2845.7 1090.9 L2850.7 1093.5 L2855.7 1096.2 L2860.7 1098.9 L2865.7 1101.5 L2870.7 1104.2 L2875.7 1106.9 L2880.6 1109.6 L2885.6 1112.4 L2890.6 1115.1 L2895.6 1117.9 L2900.6 1120.7 L2905.6 1123.5 L2910.6 1126.4 L2915.6 1129.2 L2920.6 1132.2 L2925.6 1135.1 L2930.6 1138.1 L2935.6 1141.2 L2940.5 1144.3 L2945.5 1147.4 L2950.5 1150.6 L2955.5 1153.8 L2960.5 1157.1 L2965.5 1160.4 L2970.5 1163.7 L2975.5 1167.0 L2980.5 1170.4 L2985.5 1173.8 L2990.4 1177.2 L2995.4 1180.6 L3000.4 1184.0 L3005.4 1187.4 L3010.4 1190.8 L3015.4 1194.2 L3020.4 1197.6 L3025.4 1201.0 L3030.4 1204.3 L3035.4 1207.7 L3040.4 1211.0 L3045.3 1214.3 L3050.3 1217.5 L3055.3 1220.7 L3060.3 1223.8 L3065.3 1226.9 L3070.3 1230.0 L3075.3 1232.9 L3080.3 1235.8 L3085.3 1238.7 L3090.3 1241.5 L3095.3 1244.1 L3100.2 1246.7 L3105.2 1249.2 L3110.2 1251.6 L3115.2 1253.9 L3120.2 1256.1 L3125.2 1258.2 L3130.2 1260.2 L3135.2 1262.0 L3140.2 1263.7 L3145.2 1265.3 L3150.2 1266.7 L3155.2 1268.1 L3160.1 1269.3 L3165.1 1270.4 L3170.1 1271.4 L3175.1 1272.3 L3180.1 1273.1 L3185.1 1273.8 L3190.1 1274.5 L3195.1 1275.0 L3200.1 1275.5 L3205.1 1276.0 L3210.1 1276.3 L3215.0 1276.7 L3220.0 1276.9 L3225.0 1277.2 L3230.0 1277.4 L3235.0 1277.5 L3240.0 1277.7" fill="none" stroke="#008000" stroke-width="12.5" stroke-linejoin="round"/>
</g>
<path class="grid" d="M687 1838.0V210.0M901 1838.0V210.0M1138 1838.0V210.0M1367 1838.0V210.0M1604 1838.0V210.0M1834 1838.0V210.0M2070 1838.0V210.0M2307 1838.0V210.0M2537 1838.0V210.0M2774 1838.0V210.0M3003 1838.0V210.0M450.0 1431H3240.0M450.0 1024H3240.0M450.0 617H3240.0" stroke-dashoffset="0"/>
<path class="tick" d="M687 1838.0v-20.837000000000003M687 210.0v16.67M901 1838.0v-20.837000000000003M901 210.0v16.67M1138 1838.0v-20.837000000000003M1138 210.0v16.67M1367 1838.0v-20.837000000000003M1367 210.0v16.67M1604 1838.0v-20.837000000000003M1604 210.0v16.67M1834 1838.0v-20.837000000000003M1834 210.0v16.67M2070 1838.0v-20.837000000000003M2070 210.0v16.67M2307 1838.0v-20.837000000000003M2307 210.0v16.67M2537 1838.0v-20.837000000000003M2537 210.0v16.67M2774 1838.0v-20.837000000000003M2774 210.0v16.67M3003 1838.0v-20.837000000000003M3003 210.0v16.67M450.0 1838h20.837000000000003M3240.0 1838h-16.67M450.0 1431h20.837000000000003M3240.0 1431h-16.67M450.0 1024h20.837000000000003M3240.0 1024h-16.67M450.0 617h20.837000000000003M3240.0 617h-16.67M450.0 210h20.837000000000003M3240.0 210h-16.67"/>
<rect x="450.0" y="210.0" width="2790.0" height="1628.0" fill="none" stroke="#000" stroke-width="4.167" stroke-linejoin="miter"/>
<text class="t14" x="433.0" y="1852.10" text-anchor="end">200</text>
<text class="t14" x="433.0" y="1445.22" text-anchor="end">250</text>
<text class="t14" x="433.0" y="1038.35" text-anchor="end">300</text>
<text class="t14" x="433.0" y="631.48" text-anchor="end">350</text>
<text class="t14" x="433.0" y="224.60" text-anchor="end">400</text>
<text class="t14" x="557.01" y="1895.2" text-anchor="middle">Jan</text>
<text class="t14" x="793.97" y="1895.2" text-anchor="middle">Feb</text>
<text class="t14" x="1008.00" y="1895.2" text-anchor="middle">Mar</text>
<text class="t14" x="1244.96" y="1895.2" text-anchor="middle">Apr</text>
<text class="t14" x="1474.27" y="1895.2" text-anchor="middle">Mai</text>
<text class="t14" x="1711.23" y="1895.2" text-anchor="middle">Jūn</text>
<text class="t14" x="1940.55" y="1895.2" text-anchor="middle">Jūl</text>
<text class="t14" x="2177.51" y="1895.2" text-anchor="middle">Aug</text>
<text class="t14" x="2414.47" y="1895.2" text-anchor="middle">Sept</text>
<text class="t14" x="2643.78" y="1895.2" text-anchor="middle">Okt</text>
<text class="t14" x="2880.74" y="1895.2" text-anchor="middle">Nov</text>
<text class="t14" x="3110.05" y="1895.2" text-anchor="middle">Dec</text>
<text class="t17" x="1845" y="190" text-anchor="middle">Periods 1976-2005. Gulbene.</text>
<text class="t14" transform="translate(306 1634) rotate(-90)" text-anchor="start">Garo viļņu radiācija uz horizontālas virsmas,</text>
<text transform="translate(306.8 574.5) rotate(-90) scale(1.108 1)" font-size="62.2" font-style="italic">W</text>
<text transform="translate(320.2 515.1) rotate(-90) scale(0.96 1)" font-size="88.2">/</text>
<text transform="translate(307.2 490.2) rotate(-90) scale(1.313 1)" font-size="57.5" font-style="italic">m</text>
<text transform="translate(284.1 433.9) rotate(-90) scale(1.013 1)" font-size="41.2">2</text>
<rect x="2615" y="245" width="590" height="416.70000000000005" fill="#fff" stroke="#000" stroke-width="4.167"/>
<path d="M2661.7 298.0H2764.0" stroke="#808080" stroke-width="4.167" fill="none"/>
<text class="t17" x="2839.3" y="321.0">13%</text>
<path d="M2661.7 397.3H2764.0" stroke="#808080" stroke-width="4.167" fill="none"/>
<text class="t17" x="2839.3" y="420.3">87%</text>
<path d="M2658.0 496.6H2769.0" stroke="#000" stroke-width="12.5" fill="none"/>
<text class="t17" x="2839.3" y="520.0">Mediāna</text>
<path d="M2658.0 595.6H2769.0" stroke="#008000" stroke-width="12.5" fill="none"/>
<text class="t17" x="2839.3" y="619.3">Novērojumi</text>
</svg></body></html>
